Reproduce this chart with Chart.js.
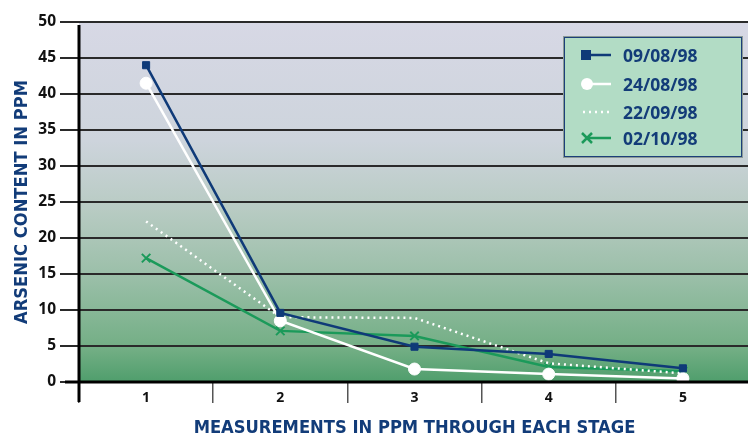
<!DOCTYPE html>
<html>
<head>
<meta charset="utf-8">
<script src="https://cdn.jsdelivr.net/npm/chart.js@4.4.0/dist/chart.umd.min.js"></script>
<style>
  html, body { margin: 0; padding: 0; background: #fff; overflow: hidden; }
  #wrap { position: relative; width: 748px; height: 437px; overflow: hidden; }
  #legend {
    position: absolute; left: 564px; top: 37px; width: 176px; height: 118px;
    background: #b2dcc5; border: 1.5px solid #1c3f7a; box-sizing: content-box;
    box-shadow: 0 0 0 1px #8a9a96;
    font-family: "Open Sans", sans-serif; font-weight: bold; font-size: 17.5px; color: #133c78;
  }
  #legend .row { position: absolute; left: 0; height: 24px; display: flex; align-items: center; }
  #legend svg { margin-left: 16px; margin-right: 12px; }
</style>
</head>
<body>
<div id="wrap">
  <canvas id="lineChart1" width="758" height="437"></canvas>
  <div id="legend"></div>
</div>
<script>
// chart data
const stages = ['1', '2', '3', '4', '5'];
const seriesNames = ['09/08/98', '24/08/98', '22/09/98', '02/10/98'];
const aug09 = [44.0, 9.6, 4.9, 3.9, 1.9];
const aug24 = [41.5, 8.5, 1.8, 1.1, 0.5];
const sep22 = [22.3, 9.0, 8.9, 2.6, 1.2];
const oct02 = [17.2, 7.1, 6.4, 2.1, 1.5];
const yTicks = [0, 5, 10, 15, 20, 25, 30, 35, 40, 45, 50];

const navy = '#0f3a78';
const green = '#1b9a5a';
const textNavy = '#123c79';
const titleFont = "'DejaVu Sans Condensed', sans-serif";

// background gradient + heavy axis lines
const chartDecor = {
  id: 'chartDecor',
  beforeDraw(chart) {
    const {ctx, chartArea: a} = chart;
    const g = ctx.createLinearGradient(0, a.top, 0, a.bottom);
    g.addColorStop(0, '#d7d8e5');
    g.addColorStop(0.33, '#cdd4dc');
    g.addColorStop(0.52, '#b8cbc3');
    g.addColorStop(0.72, '#98bea6');
    g.addColorStop(0.91, '#72ae84');
    g.addColorStop(1, '#4f9e6c');
    ctx.save();
    ctx.fillStyle = g;
    ctx.fillRect(a.left, a.top, a.right - a.left, a.bottom - a.top);
    ctx.restore();
  },
  afterDraw(chart) {
    const {ctx, chartArea: a} = chart;
    ctx.save();
    ctx.strokeStyle = '#000';
    ctx.lineWidth = 3;
    ctx.beginPath();
    ctx.moveTo(a.left, a.top + 3);
    ctx.lineTo(a.left, a.bottom + 20);
    ctx.moveTo(a.left - 14, a.bottom);
    ctx.lineTo(a.right, a.bottom);
    ctx.stroke();
    ctx.restore();
  }
};

function createChart() {
  const el = document.getElementById('lineChart1');
  const datasets = [
    { label: seriesNames[0], data: aug09, borderColor: navy, backgroundColor: navy,
      borderWidth: 2.5, pointStyle: 'rect', pointRadius: 5, pointBorderWidth: 1 },
    { label: seriesNames[1], data: aug24, borderColor: '#ffffff', backgroundColor: '#ffffff',
      borderWidth: 2.5, pointStyle: 'circle', pointRadius: 6, pointBorderWidth: 1 },
    { label: seriesNames[2], data: sep22, borderColor: '#ffffff', backgroundColor: '#ffffff',
      borderWidth: 2.5, borderDash: [2, 4], pointRadius: 0 },
    { label: seriesNames[3], data: oct02, borderColor: green, backgroundColor: green,
      borderWidth: 2.5, pointStyle: 'crossRot', pointRadius: 6, pointBorderWidth: 2 }
  ];

  new Chart(el, {
    type: 'line',
    data: { labels: stages, datasets: datasets },
    options: {
      responsive: false,
      animation: false,
      layout: { padding: { top: 22, right: 0, left: 0, bottom: 0 } },
      scales: {
        x: {
          offset: true,
          grid: { offset: true, drawOnChartArea: false, drawTicks: true, tickLength: 21,
                  color: '#555', lineWidth: 1.5 },
          border: { display: false },
          ticks: { color: '#111', padding: -13, font: { family: 'Open Sans', weight: 'bold', size: 14 } },
          title: { display: true, text: 'MEASUREMENTS IN PPM THROUGH EACH STAGE', color: textNavy,
                   padding: { top: 0, bottom: 0 },
                   font: { family: titleFont, weight: 'bold', size: 18.2, lineHeight: 1.0 } },
          afterFit(scale) { scale.height = 55; }
        },
        y: {
          min: 0, max: 50,
          afterBuildTicks(scale) { scale.ticks = yTicks.map(v => ({ value: v })); },
          grid: { color: '#2a2a2a', lineWidth: 2, tickLength: 19 },
          border: { display: false },
          ticks: { color: '#111', padding: 4, font: { family: 'Open Sans', weight: 'bold', size: 15.5 } },
          title: { display: true, text: 'ARSENIC CONTENT IN PPM', color: textNavy,
                   padding: { top: 13, bottom: 0 },
                   font: { family: titleFont, weight: 'bold', size: 18.2, lineHeight: 1.0 } },
          afterFit(scale) { scale.width = 79; }
        }
      },
      plugins: {
        legend: { display: false },
        tooltip: { enabled: false }
      }
    },
    plugins: [chartDecor]
  });

  // html legend built from the datasets
  const box = document.getElementById('legend');
  const tops = [5, 34, 62, 88];
  datasets.forEach((ds, i) => {
    const row = document.createElement('div');
    row.className = 'row';
    row.style.top = tops[i] + 'px';
    let mark = '';
    if (ds.pointStyle === 'rect') mark = `<rect x="0" y="7" width="10" height="10" fill="${ds.borderColor}"/>`;
    if (ds.pointStyle === 'circle') mark = `<circle cx="6" cy="12" r="6" fill="${ds.borderColor}"/>`;
    if (ds.pointStyle === 'crossRot') mark = `<path d="M1 7 L11 17 M11 7 L1 17" stroke="${ds.borderColor}" stroke-width="2.5"/>`;
    const dash = ds.borderDash ? `stroke-dasharray="2 4"` : '';
    const x1 = ds.pointRadius === 0 ? 2 : 6;
    row.innerHTML = `<svg width="30" height="24"><line x1="${x1}" y1="12" x2="30" y2="12" stroke="${ds.borderColor}" stroke-width="2.5" ${dash}/>${mark}</svg><span>${ds.label}</span>`;
    box.appendChild(row);
  });
}

window.onload = function () {
  createChart();
};
</script>
</body>
</html>
